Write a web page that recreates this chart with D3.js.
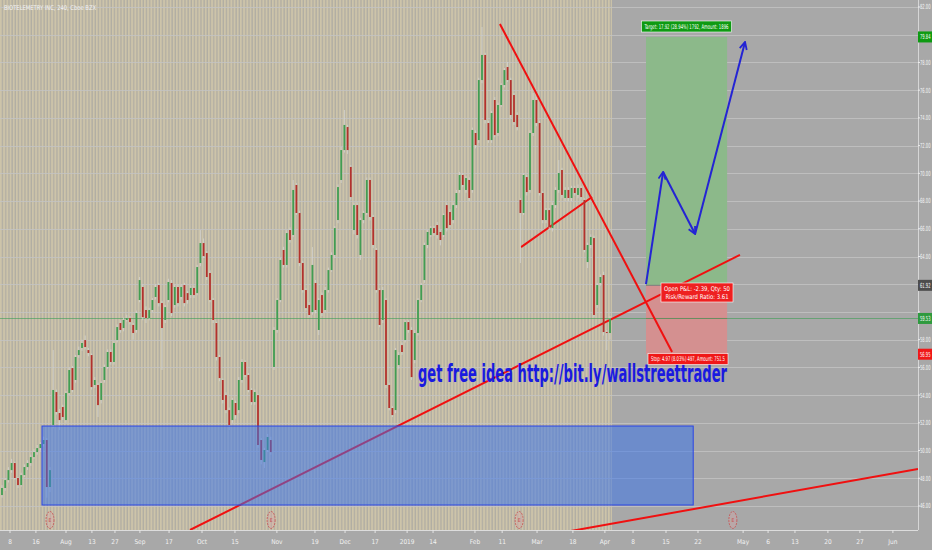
<!DOCTYPE html>
<html><head><meta charset="utf-8">
<script src="https://cdnjs.cloudflare.com/ajax/libs/d3/7.8.5/d3.min.js"></script>
<style>html,body{margin:0;padding:0;background:#a8a8a8;overflow:hidden}svg{display:block}</style>
</head><body><svg id="c" width="932" height="550"></svg>
<script>
const title = "BIOTELEMETRY INC, 240, Cboe BZX";
// [open, high, low, close]
const candles = [
[46.79,47.5,46.6,47.30],[47.30,48.0,47.1,47.87],[47.87,48.8,47.7,48.59],[48.59,49.4,48.4,49.10],[49.10,49.2,47.9,48.02],
[48.02,48.1,47.3,47.51],[47.51,48.4,47.4,48.23],[48.23,49.0,48.1,48.81],[48.81,49.3,48.6,49.10],[49.10,49.7,48.9,49.53],
[49.53,50.1,49.4,49.89],[49.89,50.4,49.7,50.18],[50.18,50.6,50.0,50.47],[50.47,51.0,50.3,50.76],[50.76,50.9,46.6,47.37],
[47.37,48.8,47.0,48.59],[51.84,57.25,51.6,54.37],[54.22,54.4,52.6,52.78],[52.71,53.0,51.48,52.20],[53.14,53.3,52.2,52.42],
[52.20,54.3,52.0,54.15],[54.15,56.0,54.0,55.81],[55.95,56.1,54.2,54.37],[55.09,56.9,54.9,56.75],[56.89,57.5,56.7,57.25],
[57.40,58.0,57.2,57.76],[57.97,58.3,57.3,57.47],[57.25,57.4,56.8,57.04],[56.89,57.0,54.4,54.58],[54.73,55.3,54.5,55.09],
[54.73,54.9,52.42,53.28],[53.65,55.0,53.4,54.87],[55.09,56.2,54.9,56.03],[56.03,57.3,55.9,57.11],[57.11,57.3,56.2,56.39],
[56.39,57.9,56.2,57.76],[57.97,59.1,57.8,58.91],[59.20,59.4,58.5,58.70],[58.84,59.6,58.6,59.42],[59.42,59.8,59.3,59.56],
[59.56,59.7,59.1,59.27],[59.06,59.2,58.0,58.48],[58.70,60.1,58.5,59.92],[60.86,62.52,60.7,62.30],[61.80,62.0,59.4,59.63],
[60.14,60.4,59.2,59.56],[59.56,60.3,59.4,60.14],[60.14,61.0,60.0,60.86],[61.08,62.0,60.9,61.80],[61.94,62.1,60.4,60.64],
[60.64,60.8,55.81,58.84],[59.42,60.5,59.2,60.35],[60.86,62.4,60.7,62.16],[62.09,62.3,59.7,59.92],[60.50,62.0,60.3,61.80],
[61.80,62.0,60.4,60.64],[61.08,62.0,60.9,61.80],[61.94,62.1,60.4,60.64],[61.36,61.5,60.6,60.86],[61.22,61.9,61.0,61.73],
[61.73,61.9,61.0,61.22],[61.36,63.4,61.2,63.24],[63.53,65.91,63.3,64.97],[64.97,65.3,63.9,64.03],[64.25,64.4,62.3,62.52],
[62.81,63.0,60.7,60.86],[60.86,61.0,59.2,59.42],[59.20,59.3,56.5,56.75],[56.75,56.9,55.0,55.23],[55.09,55.2,53.4,53.65],
[54.00,54.2,52.7,52.92],[52.92,53.1,51.48,51.84],[52.20,53.8,52.0,53.65],[53.43,53.6,52.3,52.56],[52.92,55.3,52.7,55.09],
[55.09,56.6,54.9,56.39],[56.39,56.5,55.3,55.45],[55.45,55.6,54.2,54.37],[54.37,54.5,53.3,53.50],[53.50,54.4,53.3,54.22],
[54.00,54.1,50.2,50.40],[50.76,50.9,49.0,49.32],[49.17,50.2,48.74,50.04],[50.04,51.2,49.9,50.98],[50.76,51.0,49.7,49.89],
[56.03,58.9,55.81,58.70],[58.70,61.0,58.5,60.86],[60.86,63.9,60.7,63.75],[64.47,64.7,63.2,63.39],[63.39,65.9,63.2,65.69],
[65.91,66.1,65.0,65.19],[65.55,69.52,65.4,68.80],[69.16,69.3,67.0,67.14],[67.14,67.3,63.3,63.53],[63.53,63.7,61.4,61.58],
[61.58,61.7,60.1,60.28],[60.50,60.7,59.6,59.78],[59.99,64.68,59.8,63.39],[62.09,62.3,59.9,60.14],[58.70,61.0,58.33,60.86],
[61.22,61.4,59.7,59.92],[60.14,61.8,60.0,61.58],[61.58,63.2,61.4,63.02],[63.02,64.3,62.9,64.11],[64.11,66.2,63.9,66.05],
[66.63,69.2,66.4,69.01],[69.52,71.9,69.3,71.68],[71.68,74.57,71.5,73.49],[73.34,73.5,71.4,71.68],[70.46,70.6,68.1,68.29],
[65.91,67.9,65.6,67.71],[67.71,67.9,65.3,65.55],[64.11,66.8,63.75,66.63],[66.63,67.3,66.4,67.14],[67.14,69.7,67.0,69.52],
[69.52,69.7,66.6,66.85],[66.85,67.0,64.6,64.83],[64.47,64.6,61.4,61.58],[61.58,61.7,58.9,59.06],[59.42,61.8,59.2,61.58],
[60.86,61.0,54.5,54.73],[54.73,54.9,52.9,53.07],[53.07,53.2,52.42,52.56],[52.92,57.4,52.7,57.25],[56.17,57.1,55.9,56.89],
[57.61,57.8,56.9,57.11],[57.97,59.4,57.8,59.27],[59.27,59.4,58.5,58.70],[58.70,58.9,55.1,55.30],[56.53,58.7,56.3,58.48],
[58.48,61.0,58.3,60.86],[60.86,62.1,60.7,61.94],[62.30,65.0,62.1,64.83],[64.83,65.9,64.6,65.77],[65.55,66.2,65.4,66.05],
[66.05,66.2,65.5,65.69],[66.27,66.5,65.3,65.55],[65.77,65.9,64.8,65.19],[65.55,67.1,65.4,66.99],[67.71,67.9,65.8,66.05],
[67.21,67.4,66.1,66.27],[66.63,67.9,66.4,67.71],[67.71,68.8,67.5,68.58],[68.80,70.1,68.6,69.88],[69.88,70.0,69.0,69.16],
[68.80,69.8,68.6,69.66],[69.52,69.7,68.0,68.22],[68.80,73.3,68.6,73.13],[72.91,73.1,71.8,72.04],[72.40,76.9,72.2,76.73],
[76.73,80.56,76.5,78.54],[78.54,78.7,73.6,73.85],[73.63,73.8,72.2,72.40],[72.40,74.5,72.2,74.35],[75.29,75.5,72.6,72.76],
[72.91,75.1,72.7,74.93],[74.93,76.5,74.8,76.37],[76.37,77.6,76.2,77.45],[77.67,78.03,76.6,76.73],[76.73,76.9,74.0,74.21],
[75.65,75.8,73.5,73.70],[74.21,74.4,73.1,73.34],[68.08,68.2,63.53,67.14],[67.14,70.0,67.0,69.88],[69.73,69.9,68.4,68.65],
[68.80,73.1,68.6,72.91],[72.91,75.79,72.7,75.29],[75.29,75.5,73.4,73.63],[73.63,73.8,68.4,68.58],[68.58,68.7,66.4,66.63],
[66.63,67.5,66.4,67.35],[67.35,67.5,65.9,66.13],[66.05,67.9,65.8,67.71],[67.71,69.0,67.5,68.80],[68.80,70.96,68.6,70.02],
[70.24,70.4,68.2,68.44],[68.22,69.0,68.0,68.80],[68.80,69.0,68.0,68.22],[68.22,69.1,68.0,68.94],[68.94,69.1,68.4,68.58],
[68.44,69.2,68.2,68.94],[68.94,69.1,68.1,68.29],[68.08,68.2,64.3,64.47],[63.60,65.0,63.17,64.83],[64.83,65.6,64.6,65.41],
[65.33,65.5,59.6,59.78],[60.50,62.1,60.3,61.94],[62.09,62.7,61.9,62.52],[62.66,62.9,58.3,58.55],[58.55,58.7,57.25,58.48],
[58.48,59.7,58.0,59.53]
];
const priceTicks = [46,48,50,52,54,56,58,60,62,64,66,68,70,72,74,76,78,80,82];
const timeTicks = [["8",2.5],["16",10.6],["Aug",20],["13",28.1],["27",35.3],["Sep",43.1],["17",52.2],["Oct",62.5],
  ["15",72.8],["Nov",85.9],["19",97.8],["Dec",107.2],["17",116.6],["2019",126.6],["14",134.7],["Feb",147.8],
  ["11",156.3],["Mar",167.2],["18",178.4],["Apr",188.4],["8",197.2],["15",207.5],["22",217.5],["May",231.6],
  ["6",239.4],["13",247.8],["20",258.1],["27",268.1],["Jun",278.4]];
const lastPrice = 59.53;
const entryPrice = 61.92, targetPrice = 79.84, stopPrice = 56.95;
const positionSpan = [201.25, 226.6];
const positionTexts = ["Target: 17.92 (28.94%) 1792, Amount: 1896", "Open P&L: -2.39, Qty: 50",
  "Risk/Reward Ratio: 3.61", "Stop: 4.97 (8.03%) 497, Amount: 751.5"];
const zoneSpan = [12.5, 216], zonePrices = [51.77, 46.07];
const trendLines = [[58.75,44.27,230.6,64.11],[155.6,80.77,209.4,57.11],[162.2,64.68,184.4,68.29],[175.9,44.12,286.25,48.67]];
const arrowPath = [[201.25,62.0],[206.6,70.1],[216.6,65.62],[232.2,79.47]];
const earnings = [15, 84.1, 161.6, 228.4];
const promoText = "get free idea http://bit.ly/wallstreettrader";

const W = 932, H = 550, plotR = 918, plotB = 530;
const x = d3.scaleLinear().domain([0, 286.25]).range([2, 918]);
const y = d3.scaleLinear().domain([46, 82]).range([506, 7]);
const svg = d3.select("#c");
const narrow = "'Liberation Sans Narrow','DejaVu Sans Condensed','Arial Narrow',sans-serif";

const defs = svg.append("defs");
const pat = defs.append("pattern").attr("id","stripes").attr("patternUnits","userSpaceOnUse")
  .attr("width",3.2).attr("height",10);
pat.append("rect").attr("width",3.2).attr("height",10).attr("fill","#b0ada3");
pat.append("rect").attr("width",1.9).attr("height",10).attr("fill","#cdc4a9");
defs.append("clipPath").attr("id","plot").append("rect").attr("width",plotR).attr("height",plotB);
const mk = defs.append("marker").attr("id","ah").attr("viewBox","0 0 10 10").attr("refX",9).attr("refY",5)
  .attr("markerWidth",9).attr("markerHeight",9).attr("orient","auto").attr("markerUnits","userSpaceOnUse");
mk.append("path").attr("d","M1,1 L9,5 L1,9").attr("fill","none").attr("stroke","#2424d4").attr("stroke-width",2);

svg.append("rect").attr("width",W).attr("height",H).attr("fill","#a8a8a8");
const g = svg.append("g").attr("clip-path","url(#plot)");
const lastX = x(candles.length - 1) + 2;
g.append("rect").attr("x",0).attr("y",0).attr("width",lastX).attr("height",plotB).attr("fill","url(#stripes)");

// grid
g.selectAll("line.grid").data(priceTicks).join("line").attr("class","grid")
  .attr("x1",0).attr("x2",plotR).attr("y1",d=>Math.round(y(d))+0.5).attr("y2",d=>Math.round(y(d))+0.5)
  .attr("stroke","#c4c4c4").attr("stroke-width",1).attr("opacity",0.8);

// position tool
const px0 = x(positionSpan[0]), px1 = x(positionSpan[1]);
g.append("rect").attr("x",px0).attr("width",px1-px0).attr("y",y(targetPrice)).attr("height",y(entryPrice)-y(targetPrice))
  .attr("fill","#8cb98a");
g.append("rect").attr("x",px0).attr("width",px1-px0).attr("y",y(entryPrice)).attr("height",y(stopPrice)-y(entryPrice))
  .attr("fill","#d49090");
g.append("line").attr("x1",px0).attr("x2",px1).attr("y1",y(entryPrice)).attr("y2",y(entryPrice)).attr("stroke","#7d7d7d");
g.append("line").attr("x1",px0).attr("x2",px1).attr("y1",y(lastPrice)).attr("y2",y(lastPrice)).attr("stroke","#b07070");

// current price line
g.append("line").attr("x1",0).attr("x2",plotR).attr("y1",y(lastPrice)).attr("y2",y(lastPrice))
  .attr("stroke","#3f9f55").attr("stroke-width",0.8).attr("opacity",0.8);

// trend lines
g.selectAll("line.tl").data(trendLines).join("line").attr("class","tl")
  .attr("x1",d=>x(d[0])).attr("y1",d=>y(d[1])).attr("x2",d=>x(d[2])).attr("y2",d=>y(d[3]))
  .attr("stroke","#f01010").attr("stroke-width",2);

// candles
const cg = g.append("g");
cg.selectAll("line.wick").data(candles).join("line").attr("class","wick")
  .attr("x1",(d,i)=>x(i)).attr("x2",(d,i)=>x(i)).attr("y1",d=>y(d[1])).attr("y2",d=>y(d[2]))
  .attr("stroke","#d4d4d0").attr("stroke-width",0.8);
cg.selectAll("rect.body").data(candles).join("rect").attr("class","body")
  .attr("x",(d,i)=>x(i)-0.9).attr("width",1.8)
  .attr("y",d=>y(Math.max(d[0],d[3])))
  .attr("height",d=>Math.max(1,Math.abs(y(d[0])-y(d[3]))))
  .attr("fill",d=>d[3]>=d[0]?"#419d52":"#b3312c");

// demand zone
g.append("rect").attr("x",x(zoneSpan[0])).attr("width",x(zoneSpan[1])-x(zoneSpan[0]))
  .attr("y",y(zonePrices[0])).attr("height",y(zonePrices[1])-y(zonePrices[0]))
  .attr("fill","rgba(55,115,235,0.52)").attr("stroke","#2a44e6").attr("stroke-width",1);

// arrows
const segs = d3.pairs(arrowPath);
g.selectAll("line.arr").data(segs).join("line").attr("class","arr")
  .attr("x1",d=>x(d[0][0])).attr("y1",d=>y(d[0][1])).attr("x2",d=>x(d[1][0])).attr("y2",d=>y(d[1][1]))
  .attr("stroke","#2424d4").attr("stroke-width",2).attr("marker-end","url(#ah)");

// promo text
svg.append("text").attr("x",418).attr("y",382).attr("font-family",narrow).attr("font-weight","bold")
  .attr("font-size",24).attr("fill","#1a1ae0").attr("textLength",309).attr("lengthAdjust","spacingAndGlyphs")
  .text(promoText);

// earnings markers
const eg = svg.append("g");
earnings.forEach(e=>{
  eg.append("ellipse").attr("cx",x(e)).attr("cy",520).attr("rx",4).attr("ry",8.5)
    .attr("fill","rgba(220,170,170,0.35)").attr("stroke","#c85050").attr("stroke-width",0.8).attr("stroke-dasharray","2,1");
  eg.append("text").attr("x",x(e)).attr("y",522).attr("text-anchor","middle").attr("font-size",5)
    .attr("font-family",narrow).attr("fill","#c85050").text("E");
});

// position labels
function label(txts, cx, yTop, fill, w){
  const h = txts.length*8+3;
  const maxLen = Math.max(...txts.map(s=>s.length));
  svg.append("rect").attr("x",cx-w/2).attr("y",yTop).attr("width",w).attr("height",h).attr("fill",fill)
    .attr("stroke","#ffffff").attr("stroke-width",0.6);
  txts.forEach((t,i)=>{
    const tl = t.length*(w-6)/maxLen;
    svg.append("text").attr("x",cx-tl/2).attr("y",yTop+7.5+i*8)
      .attr("font-family",narrow).attr("font-size",6.5).attr("fill","#fff")
      .attr("textLength", tl).attr("lengthAdjust","spacingAndGlyphs").text(t);
  });
}
label([positionTexts[0]], 686.5, 21, "#0e9a12", 90);
label([positionTexts[1], positionTexts[2]], 697, 283, "#ee2020", 72);
label([positionTexts[3]], 688, 353.5, "#f01818", 80);

// title
svg.append("text").attr("x",4).attr("y",10).attr("font-family",narrow).attr("font-size",6.5)
  .attr("fill","#f2f2f2").attr("textLength",92).attr("lengthAdjust","spacingAndGlyphs").text(title);

// axes
svg.append("line").attr("x1",plotR+0.5).attr("x2",plotR+0.5).attr("y1",0).attr("y2",plotB).attr("stroke","#d6d6d6");
svg.append("line").attr("x1",0).attr("x2",plotR).attr("y1",plotB+0.5).attr("y2",plotB+0.5).attr("stroke","#dcdcdc");
const tags = [[targetPrice,"#0e9a12"],[entryPrice,"#4d4d4d"],[lastPrice,"#2e9a3e"],[stopPrice,"#f01818"]];
const visTicks = priceTicks.filter(t=>tags.every(([p])=>Math.abs(y(p)-y(t))>9));
const ay = svg.append("g");
ay.selectAll("line").data(priceTicks).join("line").attr("x1",plotR).attr("x2",plotR+2)
  .attr("y1",d=>y(d)).attr("y2",d=>y(d)).attr("stroke","#eeeeee");
ay.selectAll("text").data(visTicks).join("text").attr("x",920).attr("y",d=>y(d)+2.4)
  .attr("font-family",narrow).attr("font-size",7).attr("fill","#f6f6f6")
  .attr("textLength",10.5).attr("lengthAdjust","spacingAndGlyphs").text(d=>d.toFixed(2));
const ax = svg.append("g");
ax.selectAll("line").data(timeTicks).join("line").attr("x1",d=>x(d[1])).attr("x2",d=>x(d[1]))
  .attr("y1",plotB).attr("y2",plotB+3).attr("stroke","#e6e6e6");
ax.selectAll("text").data(timeTicks).join("text").attr("x",d=>x(d[1])).attr("y",544).attr("text-anchor","middle")
  .attr("font-family",narrow).attr("font-size",6.5).attr("fill","#f2f2f2").text(d=>d[0]);

// price tags
tags.forEach(([p,c])=>{
  svg.append("rect").attr("x",plotR).attr("y",y(p)-5.5).attr("width",14).attr("height",11).attr("fill",c);
  svg.append("text").attr("x",plotR+2).attr("y",y(p)+2.4).attr("font-family",narrow)
    .attr("font-size",7).attr("fill","#fff").attr("textLength",10.5).attr("lengthAdjust","spacingAndGlyphs")
    .text(p.toFixed(2));
});
</script></body></html>
